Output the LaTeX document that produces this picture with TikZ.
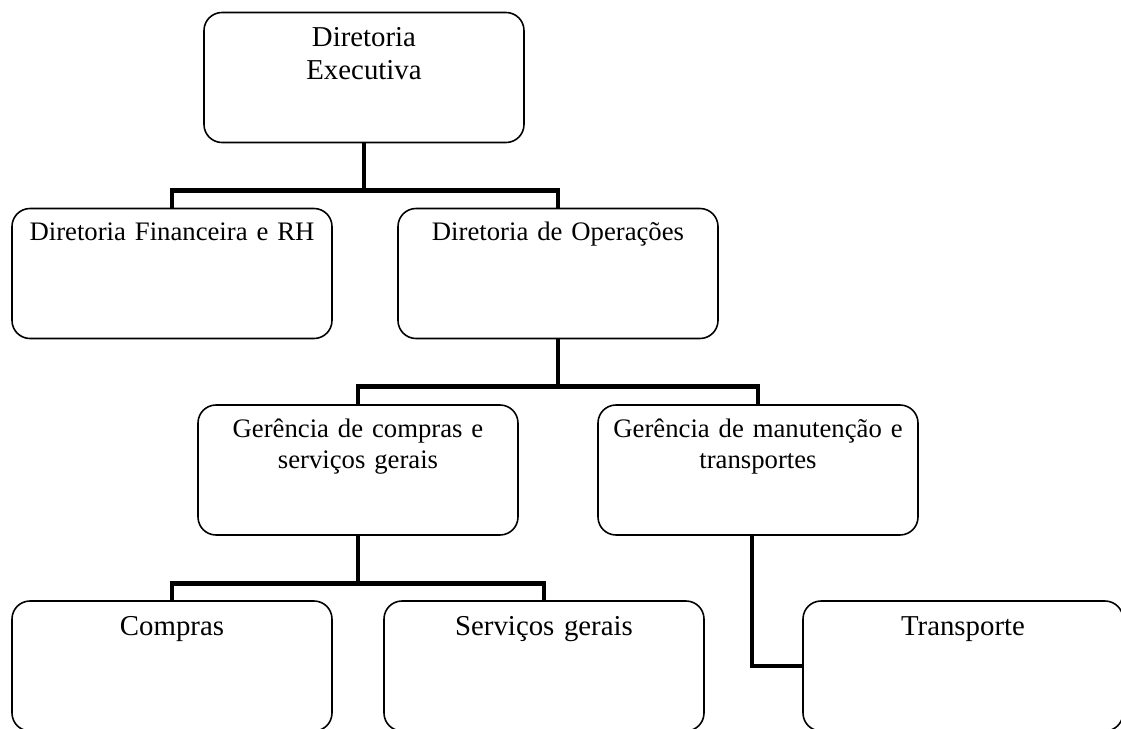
\documentclass[tikz,border=0pt]{standalone}
\usepackage{fontspec}
\setmainfont{Liberation Serif}

\begin{document}
\begin{tikzpicture}[
	unit/.style={draw, line width=0.9pt, rounded corners=0.36cm, inner sep=0pt,
		minimum width=6.4cm, text width=6.4cm, align=center,
		text height=0.64cm, text depth=1.96cm,
		font=\fontsize{15.2}{18}\selectfont},
	big/.style={unit, text height=0.69cm, text depth=1.91cm,
		font=\fontsize{16.4}{18.7}\selectfont},
	link/.style={line width=2.8pt, line join=miter}
]
\useasboundingbox (0,0) rectangle (22.42,-14.58);

\node[big] (exec) at (7.28,-1.55) {Diretoria\\Executiva};
\node[unit] (fin) at (3.44,-5.47) {Diretoria Financeira e RH};
\node[unit] (ops) at (11.16,-5.47) {Diretoria de Operações};
\node[unit] (gcs) at (7.16,-9.4) {Gerência de compras e\\serviços gerais};
\node[unit] (gmt) at (15.16,-9.4) {Gerência de manutenção e\\transportes};
\node[big] (com) at (3.44,-13.32) {Compras};
\node[big] (ser) at (10.88,-13.32) {Serviços gerais};
\node[big] (tra) at (19.26,-13.32) {Transporte};

\draw[link] (exec.south) -- ++(0,-0.94) coordinate (j1);
\draw[link] (fin.north) |- (j1) -| (ops.north);
\draw[link] (ops.south) -- ++(0,-0.94) coordinate (j2);
\draw[link] (gcs.north) |- (j2) -| (gmt.north);
\draw[link] (gcs.south) -- ++(0,-0.96) coordinate (j3);
\draw[link] (com.north) |- (j3) -| (ser.north);
\draw[link] ([xshift=-0.12cm]gmt.south) |- (tra.west);
\end{tikzpicture}
\end{document}
